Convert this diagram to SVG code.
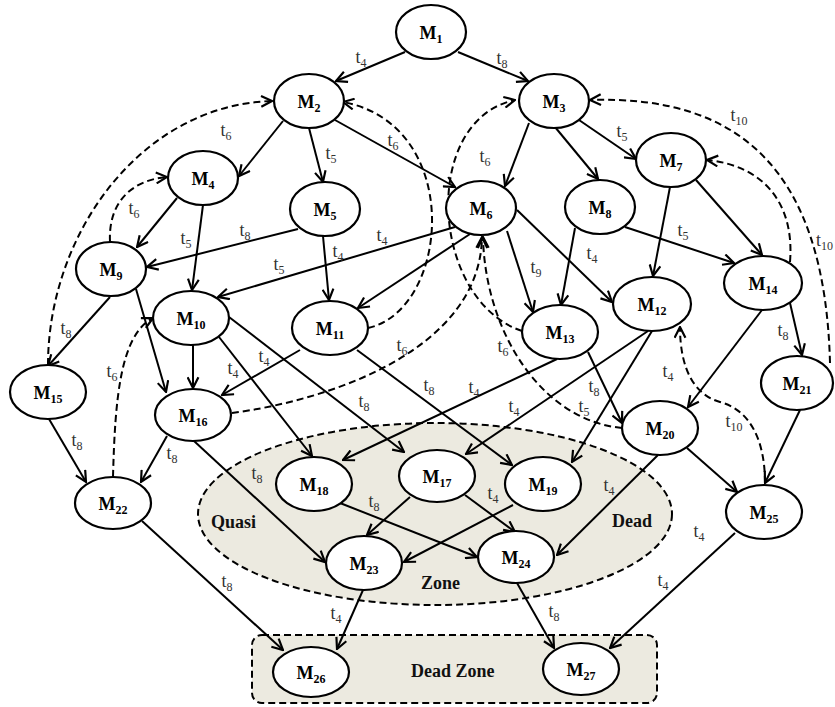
<svg xmlns="http://www.w3.org/2000/svg" width="835" height="707" viewBox="0 0 835 707">
<style>
.e{fill:none;stroke:#000;stroke-width:2;marker-end:url(#ah)}
.d{fill:none;stroke:#000;stroke-width:2;stroke-dasharray:7,4;marker-end:url(#ah)}
.n ellipse{fill:#fff;stroke:#000;stroke-width:2.2}
.n text{font-family:"Liberation Serif","Times New Roman",serif;font-weight:bold;font-size:18px;text-anchor:middle;fill:#000}
.n tspan{font-size:12px}
.l{font-family:"Liberation Serif","Times New Roman",serif;font-size:18px;text-anchor:middle;fill:#333}
.l tspan{font-size:12px}
.z{font-family:"Liberation Serif","Times New Roman",serif;font-weight:bold;font-size:18px;fill:#111}
</style>
<defs>
<marker id="ah" markerUnits="userSpaceOnUse" viewBox="0 0 12 12" refX="11" refY="6" markerWidth="13" markerHeight="13" orient="auto">
<path d="M1,1 L11,6 L1,11" fill="none" stroke="#000" stroke-width="2" stroke-dasharray="none"/>
</marker>
</defs>
<rect width="835" height="707" fill="#fff"/>
<g id="zones">
<ellipse cx="435" cy="514" rx="237" ry="91" fill="#ECEAE0" stroke="#000" stroke-width="2" stroke-dasharray="7,4"/>
<rect x="252" y="635" width="405" height="68" rx="10" fill="#ECEAE0" stroke="#000" stroke-width="2" stroke-dasharray="7,4"/>
<text class="z" x="211" y="528">Quasi</text>
<text class="z" x="612" y="527">Dead</text>
<text class="z" x="421" y="589">Zone</text>
<text class="z" x="411" y="677">Dead Zone</text>
</g>
<g id="connectors">
<path class="e" d="M405,52 L336,81"/>
<path class="e" d="M458,52 L528,81"/>
<path class="e" d="M283,121 L239,176"/>
<path class="e" d="M309,128 L323,182"/>
<path class="e" d="M335,120 L455,187"/>
<path class="e" d="M529,123 L505,186"/>
<path class="e" d="M579,120 L636,159"/>
<path class="e" d="M555,127 L598,179"/>
<path class="e" d="M177,198 L137,247"/>
<path class="e" d="M203,205 L192,290"/>
<path class="e" d="M298,229 L147,267"/>
<path class="e" d="M323,236 L329,300"/>
<path class="e" d="M455,227 L218,297"/>
<path class="e" d="M470,234 L358,308"/>
<path class="e" d="M507,231 L533,312"/>
<path class="e" d="M517,210 L612,302"/>
<path class="e" d="M670,187 L653,276"/>
<path class="e" d="M696,180 L762,255"/>
<path class="e" d="M575,228 L561,305"/>
<path class="e" d="M625,227 L734,263"/>
<path class="e" d="M110,297 L48,366"/>
<path class="e" d="M136,289 L166,392"/>
<path class="e" d="M193,345 L193,388"/>
<path class="e" d="M219,337 L312,456"/>
<path class="e" d="M229,317 L404,452"/>
<path class="e" d="M300,350 L222,395"/>
<path class="e" d="M357,350 L512,465"/>
<path class="e" d="M557,359 L343,460"/>
<path class="e" d="M648,331 L466,454"/>
<path class="e" d="M652,331 L572,462"/>
<path class="e" d="M588,352 L622,423"/>
<path class="e" d="M762,310 L688,407"/>
<path class="e" d="M790,303 L802,355"/>
<path class="e" d="M49,419 L86,482"/>
<path class="e" d="M167,436 L141,482"/>
<path class="e" d="M194,441 L325,562"/>
<path class="e" d="M340,503 L477,557"/>
<path class="e" d="M410,497 L367,535"/>
<path class="e" d="M465,495 L515,532"/>
<path class="e" d="M513,505 L404,562"/>
<path class="e" d="M658,455 L557,555"/>
<path class="e" d="M687,448 L737,492"/>
<path class="e" d="M800,410 L765,483"/>
<path class="e" d="M142,521 L283,650"/>
<path class="e" d="M363,590 L337,649"/>
<path class="e" d="M517,583 L554,648"/>
<path class="e" d="M735,533 L610,648"/>
<path class="d" d="M110,242 C108,202 132,180 167,177"/>
<path class="d" d="M48,365 C48,235 140,105 272,101"/>
<path class="d" d="M113,477 C115,400 120,335 153,318"/>
<path class="d" d="M232,413 C330,400 480,350 482,237"/>
<path class="d" d="M368,328 C450,310 465,125 343,102"/>
<path class="d" d="M522,331 C430,300 420,120 515,100"/>
<path class="d" d="M622,428 C540,420 485,330 483,237"/>
<path class="d" d="M790,262 C795,200 760,165 707,160"/>
<path class="d" d="M830,363 C825,170 740,95 590,100"/>
<path class="d" d="M765,483 C765,440 750,410 720,402 C695,395 680,370 680,327"/>
</g>
<g id="edge-labels">
<text class="l" x="361" y="63">t<tspan dy="4">4</tspan></text>
<text class="l" x="502" y="64">t<tspan dy="4">8</tspan></text>
<text class="l" x="226" y="136">t<tspan dy="4">6</tspan></text>
<text class="l" x="331" y="159">t<tspan dy="4">5</tspan></text>
<text class="l" x="393" y="146">t<tspan dy="4">6</tspan></text>
<text class="l" x="485" y="162">t<tspan dy="4">6</tspan></text>
<text class="l" x="622" y="137">t<tspan dy="4">5</tspan></text>
<text class="l" x="739" y="121">t<tspan dy="4">10</tspan></text>
<text class="l" x="833" y="246" style="text-anchor:end">t<tspan dy="4">10</tspan></text>
<text class="l" x="134" y="214">t<tspan dy="4">6</tspan></text>
<text class="l" x="186" y="244">t<tspan dy="4">5</tspan></text>
<text class="l" x="245" y="236">t<tspan dy="4">8</tspan></text>
<text class="l" x="382" y="241">t<tspan dy="4">4</tspan></text>
<text class="l" x="338" y="257">t<tspan dy="4">4</tspan></text>
<text class="l" x="279" y="270">t<tspan dy="4">5</tspan></text>
<text class="l" x="536" y="273">t<tspan dy="4">9</tspan></text>
<text class="l" x="592" y="259">t<tspan dy="4">4</tspan></text>
<text class="l" x="683" y="236">t<tspan dy="4">5</tspan></text>
<text class="l" x="66" y="334">t<tspan dy="4">8</tspan></text>
<text class="l" x="112" y="377">t<tspan dy="4">6</tspan></text>
<text class="l" x="264" y="362">t<tspan dy="4">4</tspan></text>
<text class="l" x="233" y="374">t<tspan dy="4">4</tspan></text>
<text class="l" x="402" y="351">t<tspan dy="4">6</tspan></text>
<text class="l" x="503" y="352">t<tspan dy="4">6</tspan></text>
<text class="l" x="364" y="407">t<tspan dy="4">8</tspan></text>
<text class="l" x="429" y="391">t<tspan dy="4">8</tspan></text>
<text class="l" x="474" y="393">t<tspan dy="4">4</tspan></text>
<text class="l" x="514" y="412">t<tspan dy="4">4</tspan></text>
<text class="l" x="594" y="392">t<tspan dy="4">8</tspan></text>
<text class="l" x="584" y="412">t<tspan dy="4">5</tspan></text>
<text class="l" x="668" y="377">t<tspan dy="4">4</tspan></text>
<text class="l" x="783" y="336">t<tspan dy="4">8</tspan></text>
<text class="l" x="734" y="427">t<tspan dy="4">10</tspan></text>
<text class="l" x="77" y="446">t<tspan dy="4">8</tspan></text>
<text class="l" x="172" y="459">t<tspan dy="4">8</tspan></text>
<text class="l" x="257" y="479">t<tspan dy="4">8</tspan></text>
<text class="l" x="374" y="507">t<tspan dy="4">8</tspan></text>
<text class="l" x="493" y="499">t<tspan dy="4">4</tspan></text>
<text class="l" x="609" y="491">t<tspan dy="4">4</tspan></text>
<text class="l" x="699" y="537">t<tspan dy="4">4</tspan></text>
<text class="l" x="227" y="587">t<tspan dy="4">8</tspan></text>
<text class="l" x="336" y="619">t<tspan dy="4">4</tspan></text>
<text class="l" x="554" y="617">t<tspan dy="4">8</tspan></text>
<text class="l" x="663" y="586">t<tspan dy="4">4</tspan></text>
</g>
<g id="M1" class="n"><ellipse cx="431" cy="32" rx="35" ry="27"/><text x="431" y="39">M<tspan dy="4">1</tspan></text></g>
<g id="M2" class="n"><ellipse cx="309" cy="101" rx="35" ry="27"/><text x="309" y="108">M<tspan dy="4">2</tspan></text></g>
<g id="M3" class="n"><ellipse cx="554" cy="101" rx="35" ry="27"/><text x="554" y="108">M<tspan dy="4">3</tspan></text></g>
<g id="M4" class="n"><ellipse cx="203" cy="178" rx="35" ry="27"/><text x="203" y="185">M<tspan dy="4">4</tspan></text></g>
<g id="M5" class="n"><ellipse cx="325" cy="209" rx="35" ry="27"/><text x="325" y="216">M<tspan dy="4">5</tspan></text></g>
<g id="M6" class="n"><ellipse cx="481" cy="208" rx="35" ry="27"/><text x="481" y="215">M<tspan dy="4">6</tspan></text></g>
<g id="M7" class="n"><ellipse cx="671" cy="160" rx="35" ry="27"/><text x="671" y="167">M<tspan dy="4">7</tspan></text></g>
<g id="M8" class="n"><ellipse cx="600" cy="207" rx="35" ry="27"/><text x="600" y="214">M<tspan dy="4">8</tspan></text></g>
<g id="M9" class="n"><ellipse cx="111" cy="269" rx="35" ry="27"/><text x="111" y="276">M<tspan dy="4">9</tspan></text></g>
<g id="M10" class="n"><ellipse cx="191" cy="318" rx="38" ry="27"/><text x="191" y="325">M<tspan dy="4">10</tspan></text></g>
<g id="M11" class="n"><ellipse cx="330" cy="328" rx="38" ry="27"/><text x="330" y="335">M<tspan dy="4">11</tspan></text></g>
<g id="M12" class="n"><ellipse cx="652" cy="304" rx="39" ry="27"/><text x="652" y="311">M<tspan dy="4">12</tspan></text></g>
<g id="M13" class="n"><ellipse cx="560" cy="332" rx="38" ry="27"/><text x="560" y="339">M<tspan dy="4">13</tspan></text></g>
<g id="M14" class="n"><ellipse cx="763" cy="283" rx="39" ry="27"/><text x="763" y="290">M<tspan dy="4">14</tspan></text></g>
<g id="M15" class="n"><ellipse cx="48" cy="392" rx="38" ry="27"/><text x="48" y="399">M<tspan dy="4">15</tspan></text></g>
<g id="M16" class="n"><ellipse cx="193" cy="415" rx="38" ry="26"/><text x="193" y="422">M<tspan dy="4">16</tspan></text></g>
<g id="M17" class="n"><ellipse cx="437" cy="476" rx="38" ry="26"/><text x="437" y="483">M<tspan dy="4">17</tspan></text></g>
<g id="M18" class="n"><ellipse cx="314" cy="484" rx="38" ry="27"/><text x="314" y="491">M<tspan dy="4">18</tspan></text></g>
<g id="M19" class="n"><ellipse cx="543" cy="484" rx="38" ry="27"/><text x="543" y="491">M<tspan dy="4">19</tspan></text></g>
<g id="M20" class="n"><ellipse cx="660" cy="428" rx="38" ry="27"/><text x="660" y="435">M<tspan dy="4">20</tspan></text></g>
<g id="M21" class="n"><ellipse cx="797" cy="383" rx="36" ry="27"/><text x="797" y="390">M<tspan dy="4">21</tspan></text></g>
<g id="M22" class="n"><ellipse cx="113" cy="503" rx="38" ry="26"/><text x="113" y="510">M<tspan dy="4">22</tspan></text></g>
<g id="M23" class="n"><ellipse cx="364" cy="563" rx="38" ry="27"/><text x="364" y="570">M<tspan dy="4">23</tspan></text></g>
<g id="M24" class="n"><ellipse cx="516" cy="557" rx="38" ry="26"/><text x="516" y="564">M<tspan dy="4">24</tspan></text></g>
<g id="M25" class="n"><ellipse cx="764" cy="512" rx="38" ry="27"/><text x="764" y="519">M<tspan dy="4">25</tspan></text></g>
<g id="M26" class="n"><ellipse cx="311" cy="672" rx="38" ry="25"/><text x="311" y="679">M<tspan dy="4">26</tspan></text></g>
<g id="M27" class="n"><ellipse cx="581" cy="669" rx="38" ry="26"/><text x="581" y="676">M<tspan dy="4">27</tspan></text></g>
</svg>
